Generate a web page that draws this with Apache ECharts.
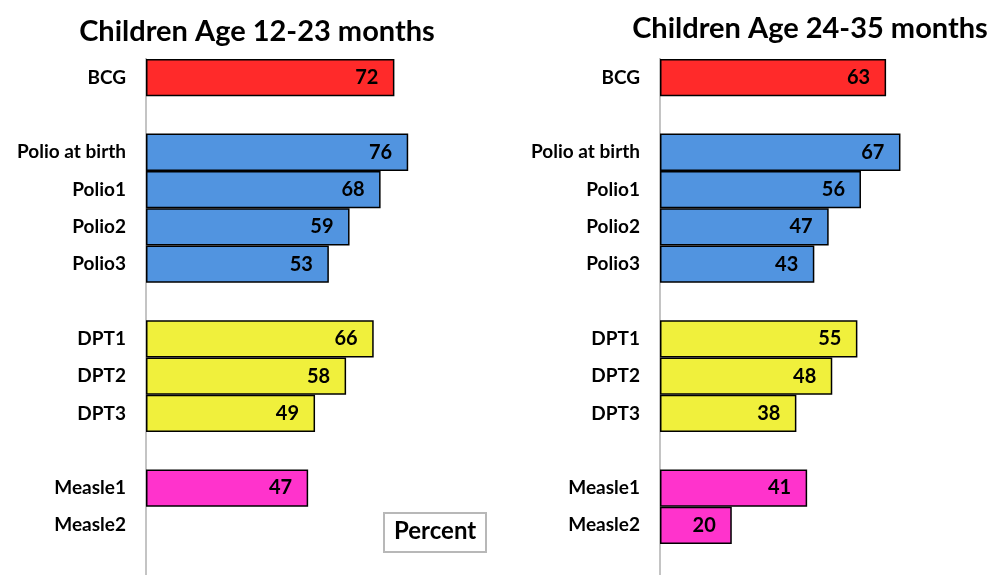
<!DOCTYPE html>
<html lang="en">
<head>
    <meta charset="UTF-8">
    <script src="https://cdn.jsdelivr.net/npm/echarts@6/dist/echarts.min.js"></script>
    <title>Vaccination coverage</title>
    <style>
        body { margin: 0; background: #fff; }
    </style>
</head>
<body>
<div id="main" style="width: 991px;height:575px;"></div>
<script type="text/javascript">
    // categories, blanks are the gaps between vaccine groups
    var categories = ['BCG', '', 'Polio at birth', 'Polio1', 'Polio2', 'Polio3', ' ',
        'DPT1', 'DPT2', 'DPT3', '  ', 'Measle1', 'Measle2'];
    var age12to23 = [72, null, 76, 68, 59, 53, null, 66, 58, 49, null, 47, null];
    var age24to35 = [63, null, 67, 56, 47, 43, null, 55, 48, 38, null, 41, 20];
    var panelTitles = ['Children Age 12-23 months', 'Children Age 24-35 months'];
    var unitLabel = 'Percent';

    var groupColors = {BCG: '#ff2a2a', Polio: '#5194e0', DPT: '#f0f03c', Measle: '#ff33cc'};
    var fontName = 'Lato';

    function colorFor(name) {
        for (var key in groupColors) {
            if (name.indexOf(key) === 0) return groupColors[key];
        }
        return '#ccc';
    }

    function buildData(values) {
        return values.map(function (v, i) {
            return {value: v, itemStyle: {color: colorFor(categories[i])}};
        });
    }

    var myChart = echarts.init(document.getElementById('main'));

    var yAxisBase = function (idx) {
        return {
            type: 'category',
            gridIndex: idx,
            data: categories,
            inverse: true,
            axisTick: {show: false},
            axisLine: {show: false},
            axisLabel: {
                margin: 20,
                color: '#000',
                fontFamily: fontName,
                fontWeight: 'bold',
                fontSize: 19
            }
        };
    };

    var barSeries = function (idx, values) {
        return {
            type: 'bar',
            xAxisIndex: idx,
            yAxisIndex: idx,
            barCategoryGap: '0%',
            data: buildData(values),
            itemStyle: {borderColor: '#000', borderWidth: 1.5},
            label: {
                show: true,
                position: 'insideRight',
                distance: 16,
                color: '#000',
                fontFamily: fontName,
                fontWeight: 'bold',
                fontSize: 20
            },
            z: 3,
            silent: true
        };
    };

    var titleStyle = {fontFamily: fontName, fontWeight: 'bold', fontSize: 29, color: '#000'};

    // the vertical axis line runs down to the bottom edge of the picture
    var axisLine = function (x) {
        return {
            type: 'line', z: 1, silent: true,
            shape: {x1: x, y1: 58, x2: x, y2: 575},
            style: {stroke: '#c4c4c4', lineWidth: 2}
        };
    };

    var option = {
        animation: false,
        title: [
            {text: panelTitles[0], left: 252, top: 12, textAlign: 'center', textStyle: titleStyle},
            {text: panelTitles[1], left: 805, top: 9, textAlign: 'center', textStyle: titleStyle},
            {
                text: unitLabel, left: 384, top: 513,
                padding: [6, 10, 9, 10],
                borderColor: '#b8b8b8', borderWidth: 2,
                textStyle: {fontFamily: fontName, fontWeight: 'bold', fontSize: 24, color: '#000'}
            }
        ],
        grid: [
            {left: 146, top: 59, width: 345, height: 485},
            {left: 660, top: 59, width: 323, height: 485}
        ],
        graphic: [axisLine(146), axisLine(660)],
        xAxis: [
            {type: 'value', gridIndex: 0, min: 0, max: 100, show: false},
            {type: 'value', gridIndex: 1, min: 0, max: 90, show: false}
        ],
        yAxis: [yAxisBase(0), yAxisBase(1)],
        series: [barSeries(0, age12to23), barSeries(1, age24to35)]
    };

    myChart.setOption(option);
</script>
</body>
</html>
